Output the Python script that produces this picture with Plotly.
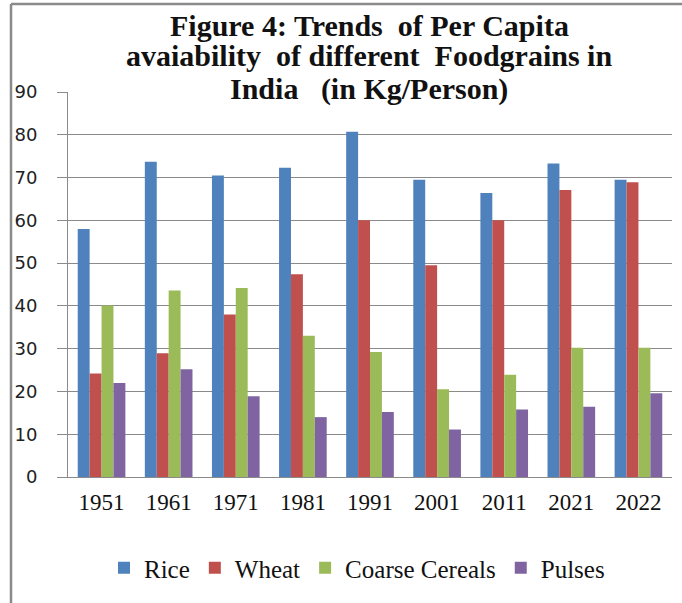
import plotly.graph_objects as go

years = ["1951", "1961", "1971", "1981", "1991", "2001", "2011", "2021", "2022"]
rice = [58.0, 73.7, 70.5, 72.3, 80.7, 69.5, 66.4, 73.3, 69.5]
wheat = [24.2, 28.9, 38.0, 47.4, 60.0, 49.5, 60.0, 67.1, 68.9]
coarse = [40.1, 43.6, 44.2, 33.0, 29.2, 20.5, 23.9, 30.2, 30.2]
pulses = [22.0, 25.2, 18.9, 14.0, 15.2, 11.1, 15.8, 16.4, 19.6]
series_names = ["Rice", "Wheat", "Coarse Cereals", "Pulses"]
colors = ["#4F81BD", "#C0504D", "#9BBB59", "#8064A2"]
title_lines = ["Figure 4: Trends  of Per Capita",
               "avaiability  of different  Foodgrains in",
               "India   (in Kg/Person)"]

W, H = 682, 603
L, R, T, B = 68, 10, 92, 126
pw, ph = W - L - R, H - T - B


def px(x):
    return (x - L) / pw


def py(y):
    return (H - B - y) / ph


fig = go.Figure()
for name, vals, c in zip(series_names, [rice, wheat, coarse, pulses], colors):
    fig.add_trace(go.Bar(x=years, y=vals, name=name, marker=dict(color=c, line=dict(width=0))))

annotations = []
for txt, yc in zip(title_lines, [25, 55, 89]):
    annotations.append(dict(text="<b>" + txt + "</b>", x=px(369), y=py(yc), xref="paper", yref="paper",
                            xanchor="center", yanchor="middle", showarrow=False,
                            font=dict(family="Liberation Serif", size=30, color="#111111")))

shapes = [
    dict(type="line", xref="paper", yref="paper", x0=px(11), x1=px(11), y0=py(H + 5), y1=py(4),
         line=dict(color="#8a8a8a", width=2.5)),
    dict(type="line", xref="paper", yref="paper", x0=px(11), x1=px(W + 5), y0=py(4), y1=py(4),
         line=dict(color="#8a8a8a", width=2.5)),
]

fig.update_layout(
    width=W, height=H,
    margin=dict(l=L, r=R, t=T, b=B),
    paper_bgcolor="white", plot_bgcolor="white",
    barmode="group", bargap=0.29, bargroupgap=0,
    annotations=annotations,
    shapes=shapes,
    showlegend=True,
    legend=dict(orientation="h", x=px(357), y=py(568), xanchor="center", yanchor="middle",
                font=dict(family="Liberation Serif", size=25, color="#111111"),
                itemwidth=30, bgcolor="rgba(0,0,0,0)"),
    xaxis=dict(showgrid=False, showline=True, linecolor="#8a8a8a", linewidth=1,
               ticks="", tickfont=dict(family="Liberation Serif", size=23, color="#111111"),
               ticklabelstandoff=4),
    yaxis=dict(range=[0, 90], dtick=10, showgrid=True, gridcolor="#8a8a8a", gridwidth=1,
               showline=True, linecolor="#8a8a8a", linewidth=1, zeroline=False,
               ticks="outside", ticklen=10, tickcolor="#8a8a8a",
               tickfont=dict(family="DejaVu Sans", size=18, color="#222222"),
               ticklabelstandoff=16),
)

fig.write_html("out.html", config={"displayModeBar": False},
               post_script="document.body.style.margin='0';document.body.style.overflow='hidden';")
